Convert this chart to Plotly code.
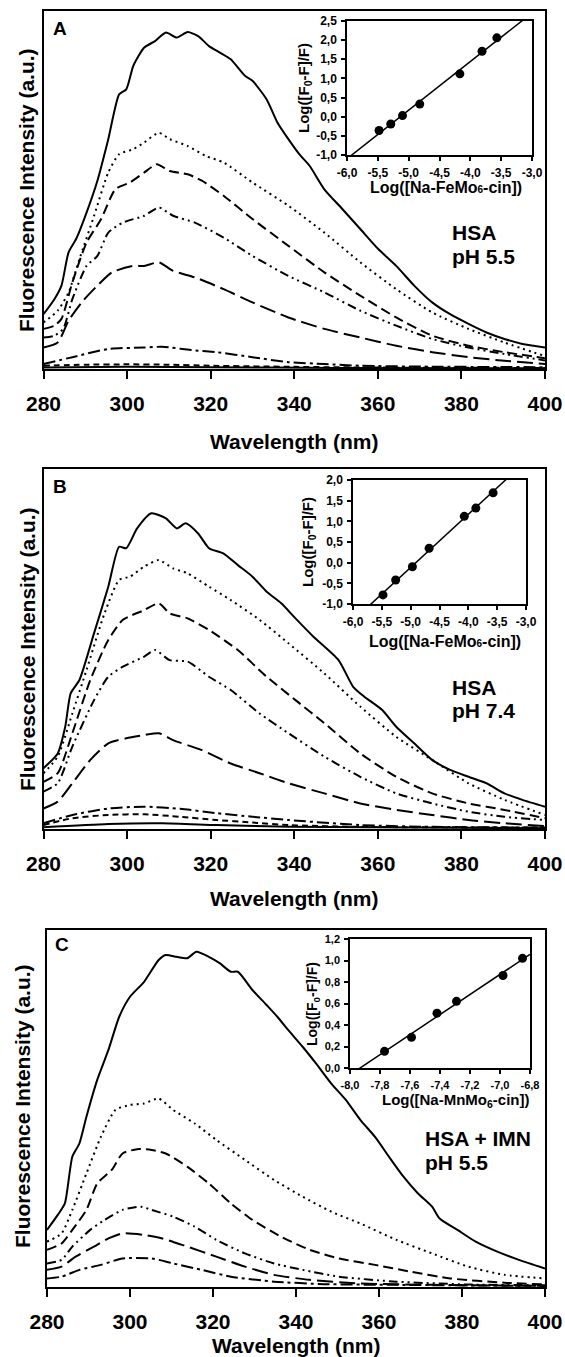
import numpy as np
import plotly.graph_objects as go

W, H = 565, 1357
FONT = "Liberation Sans, Arial, sans-serif"

def fx(px):
    return px / W

def fy(py):
    return 1 - py / H

# ---------------- data ----------------
WL_TICKS = [280, 300, 320, 340, 360, 380, 400]
WL_TICKTEXT = ["280", "300", "320", "340", "360", "380", "400"]

# Panel A (HSA, pH 5.5) – emission spectra, arbitrary units (0-100 of frame)
A1_wl = [280.0, 282.6, 284.3, 286.0, 287.8, 290.3, 292.9, 295.5, 298.1, 299.8, 301.5, 304.1, 306.7, 309.3, 311.9,
         314.5, 317.0, 319.6, 322.2, 324.8, 328.2, 330.0, 333.4, 336.0, 338.6, 341.2, 343.7, 347.2, 351.5, 355.8,
         360.1, 364.4, 368.7, 373.0, 377.3, 381.7, 386.0, 390.3, 394.6, 400.0]
A1_val = [15.3, 19.5, 23.3, 32.6, 36.3, 43.7, 52.6, 64.2, 76.7, 78.1, 84.7, 89.8, 91.6, 94.0, 92.6,
          94.1, 93.0, 90.2, 88.4, 86.5, 81.9, 80.5, 75.3, 68.8, 64.2, 60.0, 56.7, 50.2, 44.7, 39.1,
          33.5, 28.8, 23.3, 18.6, 15.3, 12.6, 10.2, 8.4, 7.0, 6.0]
A2_wl = [280.0, 283.4, 286.0, 288.6, 292.1, 295.5, 298.1, 301.5, 304.1, 307.6, 310.2, 314.5, 318.8, 323.1, 330.0,
         338.6, 347.2, 355.8, 364.4, 373.0, 381.7, 390.3, 400.0]
A2_val = [13.0, 16.3, 21.4, 30.7, 42.8, 54.9, 60.0, 61.4, 63.3, 66.0, 64.2, 62.3, 59.5, 57.7, 52.1,
          45.6, 38.1, 29.8, 22.3, 15.8, 11.2, 7.4, 3.6]
A3_wl = [280.0, 282.6, 284.3, 286.9, 290.3, 293.8, 297.2, 300.7, 304.1, 307.1, 310.2, 314.5, 317.9, 323.1, 330.0,
         338.6, 347.2, 355.8, 364.4, 373.0, 381.7, 390.3, 400.0]
A3_val = [11.2, 12.1, 14.0, 24.2, 35.3, 41.9, 50.2, 52.1, 54.9, 57.2, 55.3, 54.4, 52.6, 48.4, 41.9,
          34.4, 27.0, 20.5, 14.4, 9.3, 6.5, 4.7, 3.0]
A4_wl = [280.0, 282.6, 284.7, 286.9, 290.3, 292.9, 295.5, 299.0, 304.1, 307.6, 311.0, 316.2, 323.1, 330.0, 338.6,
         347.2, 355.8, 364.4, 373.0, 381.7, 390.3, 400.0]
A4_val = [8.8, 9.3, 11.2, 19.5, 28.8, 31.6, 38.1, 40.9, 42.8, 45.1, 42.8, 40.9, 36.7, 31.6, 26.0,
          21.4, 16.3, 12.1, 8.4, 6.0, 4.2, 2.4]
A5_wl = [280.0, 283.4, 286.0, 289.5, 292.9, 296.4, 301.5, 304.1, 307.6, 311.0, 316.2, 323.1, 330.0, 338.6, 347.2,
         355.8, 364.4, 373.0, 381.7, 390.3, 400.0]
A5_val = [6.0, 7.4, 13.5, 19.1, 23.3, 27.0, 28.8, 28.8, 29.8, 27.4, 25.6, 22.3, 18.6, 14.4, 11.2,
          8.8, 6.5, 4.7, 3.3, 2.3, 1.4]
A6_wl = [280.0, 286.9, 295.5, 304.1, 308.4, 317.0, 321.4, 330.0, 338.6, 347.2, 355.8, 373.0, 400.0]
A6_val = [1.4, 3.3, 5.6, 6.0, 6.2, 5.1, 4.7, 3.3, 1.9, 1.4, 0.9, 0.65, 0.5]
A7_wl = [280.0, 290.0, 300.0, 310.0, 320.0, 340.0, 360.0, 400.0]
A7_val = [0.9, 1.2, 1.3, 1.2, 0.9, 0.6, 0.4, 0.3]
A8_wl = [280.0, 300.0, 320.0, 350.0, 400.0]
A8_val = [0.4, 0.6, 0.5, 0.3, 0.2]

# Panel B (HSA, pH 7.4)
B1_wl = [280.0, 283.4, 285.2, 286.5, 288.6, 292.1, 295.5, 298.1, 299.8, 302.4, 305.8, 309.3, 311.9, 314.0, 317.0,
         319.6, 323.1, 326.5, 330.0, 333.4, 336.9, 340.3, 344.6, 350.6, 354.1, 356.7, 361.0, 364.4, 368.7, 373.0,
         377.3, 381.7, 386.0, 390.3, 394.6, 400.0]
B1_val = [16.9, 21.0, 28.4, 37.7, 41.4, 54.4, 67.3, 78.4, 78.0, 83.5, 87.7, 86.3, 83.5, 84.9, 82.1,
          78.0, 76.5, 73.3, 70.1, 65.9, 62.7, 58.5, 53.4, 46.9, 39.5, 36.8, 33.1, 28.4, 23.8, 19.2,
          16.4, 14.5, 12.7, 9.9, 8.1, 6.2]
B2_wl = [280.0, 283.4, 286.9, 290.3, 294.6, 298.1, 300.7, 304.1, 307.6, 311.0, 314.5, 319.6, 324.8, 331.7, 338.6,
         347.2, 355.8, 364.4, 373.0, 381.7, 390.3, 400.0]
B2_val = [15.5, 20.1, 32.1, 44.2, 59.9, 69.2, 70.1, 72.9, 74.7, 72.4, 71.0, 67.3, 63.6, 58.1, 51.6,
          43.2, 34.0, 25.6, 19.2, 12.7, 8.1, 3.9]
B3_wl = [280.0, 283.4, 286.9, 291.2, 295.5, 299.0, 304.1, 307.6, 310.2, 314.5, 319.6, 326.5, 333.4, 340.3, 347.2,
         355.8, 364.4, 373.0, 381.7, 390.3, 400.0]
B3_val = [13.1, 15.5, 26.6, 41.4, 52.5, 58.1, 60.8, 62.7, 59.9, 58.5, 55.3, 49.7, 42.3, 35.8, 29.4,
          21.0, 14.5, 9.9, 7.1, 5.3, 3.0]
B4_wl = [280.0, 283.4, 286.9, 292.1, 295.5, 299.0, 304.1, 306.7, 310.2, 314.5, 319.6, 324.8, 331.7, 338.6, 347.2,
         355.8, 364.4, 373.0, 381.7, 390.3, 400.0]
B4_val = [10.4, 12.7, 22.9, 35.8, 42.3, 45.1, 47.9, 49.7, 46.9, 46.5, 42.3, 38.6, 32.1, 26.6, 20.1,
          14.5, 9.9, 7.1, 4.8, 3.4, 2.5]
B5_wl = [280.0, 283.4, 286.9, 291.2, 295.5, 299.8, 304.1, 307.6, 311.0, 317.9, 324.8, 331.7, 338.6, 347.2, 355.8,
         364.4, 373.0, 381.7, 390.3, 400.0]
B5_val = [5.7, 7.6, 12.7, 19.2, 23.8, 25.2, 26.1, 26.6, 24.7, 21.9, 18.2, 15.5, 12.7, 9.9, 7.1,
          5.3, 3.9, 2.5, 1.6, 0.8]
B6_wl = [280.0, 286.9, 295.5, 304.1, 312.7, 321.4, 330.0, 338.6, 355.8, 373.0, 400.0]
B6_val = [1.6, 3.9, 5.7, 6.2, 5.6, 4.4, 3.4, 2.5, 1.1, 0.6, 0.4]
B7_wl = [280.0, 286.9, 295.5, 304.1, 312.7, 321.4, 330.0, 338.6, 355.8, 400.0]
B7_val = [1.1, 3.0, 3.9, 4.1, 3.4, 2.5, 1.8, 1.1, 0.6, 0.4]
B8_wl = [280.0, 295.5, 308.4, 321.4, 338.6, 400.0]
B8_val = [0.5, 1.4, 1.6, 1.1, 0.6, 0.2]

# Panel C (HSA + IMN, pH 5.5)
C1_wl = [280.0, 282.6, 284.3, 286.1, 287.8, 289.5, 292.1, 294.8, 297.4, 300.0, 303.4, 306.9, 308.6, 311.2, 313.8,
         316.0, 319.0, 321.6, 324.3, 326.0, 329.5, 332.9, 335.5, 338.1, 341.6, 345.1, 348.5, 352.0, 355.5, 359.0,
         362.4, 365.9, 369.4, 372.8, 374.6, 378.9, 383.3, 388.5, 393.7, 400.0]
C1_val = [16.0, 20.2, 23.4, 36.5, 40.2, 47.7, 58.0, 66.4, 75.7, 81.3, 85.5, 91.6, 93.0, 92.5, 92.1,
          93.9, 92.5, 90.7, 88.3, 88.3, 83.2, 79.0, 75.7, 72.0, 67.3, 62.2, 57.0, 52.4, 46.8, 42.1,
          36.5, 30.9, 26.2, 22.5, 19.2, 16.0, 12.7, 9.9, 7.6, 5.2]
C2_wl = [280.0, 283.5, 286.1, 289.5, 293.0, 296.5, 300.0, 303.4, 306.9, 310.4, 315.6, 320.8, 327.7, 334.7, 341.6,
         348.5, 355.5, 364.2, 372.8, 381.5, 390.2, 400.0]
C2_val = [12.7, 15.0, 21.6, 31.8, 42.1, 49.6, 51.0, 51.4, 52.8, 49.6, 45.8, 41.2, 35.6, 30.0, 25.3,
          21.1, 17.8, 13.2, 9.4, 5.7, 3.4, 2.4]
C3_wl = [280.0, 283.5, 286.1, 289.5, 292.1, 295.6, 298.2, 301.7, 305.2, 308.6, 313.8, 319.0, 324.3, 329.5, 336.4,
         343.3, 350.3, 359.0, 367.6, 377.2, 390.2, 400.0]
C3_val = [10.4, 12.2, 16.0, 21.6, 29.0, 32.8, 37.4, 38.6, 38.4, 37.4, 33.7, 29.0, 23.4, 18.8, 14.1,
          10.4, 8.0, 6.2, 4.3, 2.4, 1.2, 0.7]
C4_wl = [280.0, 283.5, 286.1, 290.4, 293.9, 298.2, 302.6, 305.2, 310.4, 315.6, 320.8, 327.7, 334.7, 341.6, 350.3,
         364.2, 381.5, 400.0]
C4_val = [6.6, 7.6, 11.3, 16.0, 18.8, 21.6, 22.5, 21.6, 19.7, 16.9, 13.2, 9.4, 6.6, 4.8, 2.9,
          1.5, 0.7, 0.5]
C5_wl = [280.0, 283.5, 286.9, 291.3, 294.8, 298.2, 303.4, 307.8, 313.8, 320.8, 327.7, 334.7, 343.3, 355.5, 372.8, 400.0]
C5_val = [4.8, 5.7, 8.5, 11.3, 13.6, 15.0, 14.6, 13.6, 11.3, 8.5, 5.7, 3.4, 2.0, 1.0, 0.6, 0.3]
C6_wl = [280.0, 283.5, 287.8, 293.0, 298.2, 305.2, 310.4, 317.3, 324.3, 334.7, 346.8, 364.2, 400.0]
C6_val = [2.4, 2.9, 4.8, 6.2, 8.0, 8.0, 6.6, 4.8, 2.9, 1.5, 0.8, 0.6, 0.3]

# Insets: log-log (Stern-Volmer type) plots
IA_x = [-5.48, -5.29, -5.10, -4.82, -4.17, -3.81, -3.57]
IA_y = [-0.36, -0.19, 0.03, 0.33, 1.12, 1.71, 2.06]
IB_x = [-5.48, -5.26, -4.97, -4.68, -4.07, -3.87, -3.57]
IB_y = [-0.78, -0.42, -0.10, 0.35, 1.12, 1.32, 1.69]
IC_x = [-7.77, -7.59, -7.42, -7.29, -6.98, -6.85]
IC_y = [0.155, 0.285, 0.51, 0.62, 0.86, 1.02]

IAB_XTICKS = [-6.0, -5.5, -5.0, -4.5, -4.0, -3.5, -3.0]
IAB_XTEXT = ["-6,0", "-5,5", "-5,0", "-4,5", "-4,0", "-3,5", "-3,0"]
IA_YTICKS = [-1.0, -0.5, 0.0, 0.5, 1.0, 1.5, 2.0, 2.5]
IA_YTEXT = ["-1,0", "-0,5", "0,0", "0,5", "1,0", "1,5", "2,0", "2,5"]
IB_YTICKS = [-1.0, -0.5, 0.0, 0.5, 1.0, 1.5, 2.0]
IB_YTEXT = ["-1,0", "-0,5", "0,0", "0,5", "1,0", "1,5", "2,0"]
IC_XTICKS = [-8.0, -7.8, -7.6, -7.4, -7.2, -7.0, -6.8]
IC_XTEXT = ["-8,0", "-7,8", "-7,6", "-7,4", "-7,2", "-7,0", "-6,8"]
IC_YTICKS = [0.0, 0.2, 0.4, 0.6, 0.8, 1.0, 1.2]
IC_YTEXT = ["0,0", "0,2", "0,4", "0,6", "0,8", "1,0", "1,2"]

# ---------------- styles ----------------
DASH = {
    "solid": "solid",
    "dot": "2px,4px",
    "dash": "10px,5px",
    "ddd": "9px,4px,2px,4px,2px,4px",
    "long": "16px,6px",
    "dd": "12px,4px,3px,4px",
    "short": "6px,4px",
}

fig = go.Figure()


def add_curves(n, curves):
    for wl, val, style in curves:
        fig.add_trace(go.Scatter(
            x=wl, y=val, mode="lines",
            line=dict(color="black", width=2, dash=DASH[style], shape="spline", smoothing=0.6),
            xaxis="x" + ("" if n == 1 else str(n)), yaxis="y" + ("" if n == 1 else str(n)),
            showlegend=False, hoverinfo="skip"))


def add_inset(n, xs, ys, xr):
    ax = "x" + str(n)
    ay = "y" + str(n)
    k, b = np.polyfit(xs, ys, 1)
    lx = np.array([xr[0], xr[-1]])
    fig.add_trace(go.Scatter(x=lx, y=k * lx + b, mode="lines", line=dict(color="black", width=1.5),
                             xaxis=ax, yaxis=ay, showlegend=False, hoverinfo="skip"))
    fig.add_trace(go.Scatter(x=xs, y=ys, mode="markers", marker=dict(color="black", size=9),
                             xaxis=ax, yaxis=ay, showlegend=False, hoverinfo="skip", cliponaxis=False))


add_curves(1, [(A1_wl, A1_val, "solid"), (A2_wl, A2_val, "dot"), (A3_wl, A3_val, "dash"),
               (A4_wl, A4_val, "ddd"), (A5_wl, A5_val, "long"), (A6_wl, A6_val, "dd"),
               (A7_wl, A7_val, "short"), (A8_wl, A8_val, "solid")])
add_inset(2, IA_x, IA_y, IAB_XTICKS)
add_curves(3, [(B1_wl, B1_val, "solid"), (B2_wl, B2_val, "dot"), (B3_wl, B3_val, "dash"),
               (B4_wl, B4_val, "ddd"), (B5_wl, B5_val, "long"), (B6_wl, B6_val, "dd"),
               (B7_wl, B7_val, "short"), (B8_wl, B8_val, "solid")])
add_inset(4, IB_x, IB_y, IAB_XTICKS)
add_curves(5, [(C1_wl, C1_val, "solid"), (C2_wl, C2_val, "dot"), (C3_wl, C3_val, "dash"),
               (C4_wl, C4_val, "ddd"), (C5_wl, C5_val, "long"), (C6_wl, C6_val, "dd")])
add_inset(6, IC_x, IC_y, IC_XTICKS)


def main_axes(n, x0, x1, y0, y1):
    sx = "" if n == 1 else str(n)
    xa = dict(domain=[fx(x0), fx(x1)], range=[280, 400], anchor="y" + sx,
              tickvals=WL_TICKS, ticktext=WL_TICKTEXT, ticks="outside", ticklen=8, tickwidth=2,
              tickcolor="black", showline=True, linewidth=2, linecolor="black", mirror=True,
              showgrid=False, zeroline=False, ticklabelstandoff=7, automargin=False,
              tickfont=dict(family=FONT, size=21, color="black", weight="bold"))
    ya = dict(domain=[fy(y1), fy(y0)], range=[0, 100], anchor="x" + sx, showticklabels=False,
              ticks="", showline=True, linewidth=2, linecolor="black", mirror=True,
              showgrid=False, zeroline=False, automargin=False)
    return xa, ya


def inset_axes(n, x0, x1, y0, y1, xt, xtt, yt, ytt, fs):
    sx = str(n)
    xa = dict(domain=[fx(x0), fx(x1)], range=[xt[0], xt[-1]], anchor="y" + sx,
              tickvals=xt, ticktext=xtt, ticks="outside", ticklen=4, tickwidth=1.5, tickcolor="black",
              showline=True, linewidth=1.5, linecolor="black", mirror=True, showgrid=False, zeroline=False,
              ticklabelstandoff=2, automargin=False,
              tickfont=dict(family=FONT, size=fs, color="black", weight="bold"))
    ya = dict(domain=[fy(y1), fy(y0)], range=[yt[0], yt[-1]], anchor="x" + sx,
              tickvals=yt, ticktext=ytt, ticks="outside", ticklen=4, tickwidth=1.5, tickcolor="black",
              showline=True, linewidth=1.5, linecolor="black", mirror=True, showgrid=False, zeroline=False,
              ticklabelstandoff=2, automargin=False,
              tickfont=dict(family=FONT, size=fs, color="black", weight="bold"))
    return xa, ya


layout = {}
layout["xaxis"], layout["yaxis"] = main_axes(1, 43.5, 545, 11, 369)
layout["xaxis2"], layout["yaxis2"] = inset_axes(2, 347, 532, 21, 155, IAB_XTICKS, IAB_XTEXT, IA_YTICKS, IA_YTEXT, 12)
layout["xaxis3"], layout["yaxis3"] = main_axes(3, 43.5, 545, 469, 829)
layout["xaxis4"], layout["yaxis4"] = inset_axes(4, 353, 526, 480, 604, IAB_XTICKS, IAB_XTEXT, IB_YTICKS, IB_YTEXT, 12)
layout["xaxis5"], layout["yaxis5"] = main_axes(5, 47, 545, 930, 1287)
layout["xaxis6"], layout["yaxis6"] = inset_axes(6, 350, 530, 939, 1068, IC_XTICKS, IC_XTEXT, IC_YTICKS, IC_YTEXT, 11)

ann = []


def text(px, py, s, size, angle=0, xanchor="center", bold=True):
    ann.append(dict(x=fx(px), y=fy(py), xref="paper", yref="paper", text=s, showarrow=False,
                    xanchor=xanchor, yanchor="middle", textangle=angle,
                    font=dict(family=FONT, size=size, color="black", weight="bold" if bold else "normal")))


YT = "Fluorescence Intensity (a.u.)"
XT = "Wavelength (nm)"
# panel A
text(60, 29, "A", 19)
text(27, 190, YT, 21, angle=-90)
text(294, 442, XT, 21)
text(450, 232, "HSA", 21, xanchor="left")
text(450, 257, "pH 5.5", 21, xanchor="left")
text(446, 188, "Log([Na-FeMo<span style='font-size:10px'>6</span>-cin])", 16)
text(304, 88, "Log([F<sub>0</sub>-F]/F)", 15, angle=-90)
# panel B
text(60, 487, "B", 19)
text(27, 649, YT, 21, angle=-90)
text(294, 898, XT, 21)
text(450, 687, "HSA", 21, xanchor="left")
text(450, 710, "pH 7.4", 21, xanchor="left")
text(445, 642, "Log([Na-FeMo<span style='font-size:10px'>6</span>-cin])", 16)
text(308, 542, "Log([F<sub>0</sub>-F]/F)", 15, angle=-90)
# panel C
text(62, 944, "C", 19)
text(22, 1106, YT, 21, angle=-90)
text(296, 1345, XT, 21)
text(423, 1138, "HSA + IMN", 21, xanchor="left")
text(423, 1162, "pH 5.5", 21, xanchor="left")
text(455, 1100, "Log([Na-MnMo<sub>6</sub>-cin])", 15)
text(313, 1004, "Log([F<sub>0</sub>-F]/F)", 14, angle=-90)

fig.update_layout(
    width=W, height=H, margin=dict(l=0, r=0, t=0, b=0, pad=0, autoexpand=False),
    paper_bgcolor="white", plot_bgcolor="white",
    font=dict(family=FONT, color="black"),
    annotations=ann, showlegend=False,
    **layout,
)

fig.write_html(
    "out.html",
    config={"responsive": False, "displayModeBar": False},
    post_script="document.body.style.margin='0';document.body.style.padding='0';"
                "document.body.style.overflow='hidden';",
)
